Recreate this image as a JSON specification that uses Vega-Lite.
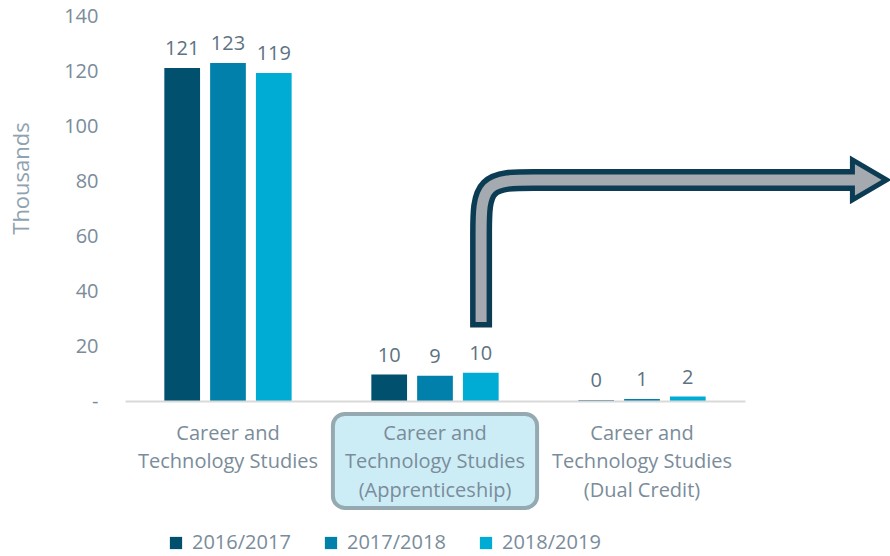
{
  "$schema": "https://vega.github.io/schema/vega-lite/v6.json",
  "width": 620,
  "height": 385,
  "autosize": "none",
  "padding": {"left": 125, "top": 16, "right": 145, "bottom": 155},
  "background": "white",
  "config": {
    "view": {"stroke": null},
    "font": "Open Sans",
    "axis": {"labelFont": "Open Sans", "titleFont": "Open Sans"},
    "legend": {"labelFont": "Open Sans"}
  },
  "datasets": {
    "enrol": [
      {"program": "Career and Technology Studies", "year": "2016/2017", "value": 121.1},
      {"program": "Career and Technology Studies", "year": "2017/2018", "value": 122.9},
      {"program": "Career and Technology Studies", "year": "2018/2019", "value": 119.3},
      {"program": "Career and Technology Studies (Apprenticeship)", "year": "2016/2017", "value": 9.6},
      {"program": "Career and Technology Studies (Apprenticeship)", "year": "2017/2018", "value": 9.2},
      {"program": "Career and Technology Studies (Apprenticeship)", "year": "2018/2019", "value": 10.3},
      {"program": "Career and Technology Studies (Dual Credit)", "year": "2016/2017", "value": 0.3},
      {"program": "Career and Technology Studies (Dual Credit)", "year": "2017/2018", "value": 0.7},
      {"program": "Career and Technology Studies (Dual Credit)", "year": "2018/2019", "value": 1.6}
    ],
    "arrow": [
      {"i": 0, "ax": 1.723, "ay": 30.7},
      {"i": 1, "ax": 1.723, "ay": 36.7},
      {"i": 2, "ax": 1.723, "ay": 62.2},
      {"i": 3, "ax": 1.723, "ay": 80.4},
      {"i": 4, "ax": 1.965, "ay": 80.4},
      {"i": 5, "ax": 2.298, "ay": 80.4},
      {"i": 6, "ax": 3.518, "ay": 80.4}
    ],
    "head": [
      {"ax": 3.602, "ay": 80.4}
    ],
    "box": [
      {"label": "highlight"}
    ]
  },
  "resolve": {"scale": {"x": "independent"}, "axis": {"y": "independent"}},
  "layer": [
    {
      "data": {"name": "enrol"},
      "encoding": {
        "x": {
          "field": "program",
          "type": "nominal",
          "sort": null,
          "scale": {"paddingInner": 0.385, "paddingOuter": 0.19},
          "axis": {
            "title": null,
            "labelAngle": 0,
            "labelFontSize": 20,
            "labelColor": "#7a8c9a",
            "labelLineHeight": 28.5,
            "labelPadding": 22,
            "labelLimit": 300,
            "labelExpr": "split(replace(replace(datum.label, 'and ', 'and|'), ' (', '|('), '|')",
            "ticks": false,
            "domainColor": "#d9d9d9",
            "domainWidth": 2,
            "zindex": 1
          }
        },
        "xOffset": {
          "field": "year",
          "type": "nominal",
          "scale": {"paddingInner": 0.22, "paddingOuter": 0}
        },
        "y": {
          "field": "value",
          "type": "quantitative",
          "scale": {"domain": [0, 140], "nice": false},
          "axis": {
            "title": "Thousands",
            "titleFontSize": 22,
            "titleFontWeight": "normal",
            "titleColor": "#8ea2af",
            "titleAngle": -90,
            "titleAlign": "center",
            "titleBaseline": "middle",
            "titleX": -104,
            "titleY": 162,
            "values": [0, 20, 40, 60, 80, 100, 120, 140],
            "labelExpr": "datum.value == 0 ? '-\u00a0\u00a0\u00a0' : datum.label",
            "labelFontSize": 20,
            "labelColor": "#7a8c9a",
            "labelPadding": 27,
            "ticks": false,
            "domain": false,
            "grid": false
          }
        }
      },
      "layer": [
        {
          "mark": {"type": "bar"},
          "encoding": {
            "color": {
              "field": "year",
              "type": "nominal",
              "scale": {
                "domain": ["2016/2017", "2017/2018", "2018/2019"],
                "range": ["#00506e", "#0080ab", "#00acd4"]
              },
              "legend": {
                "title": null,
                "orient": "none",
                "direction": "horizontal",
                "legendX": 41,
                "legendY": 517,
                "symbolType": "square",
                "symbolSize": 150,
                "symbolStrokeWidth": 0,
                "labelFontSize": 20,
                "labelColor": "#7a8c9a",
                "labelOffset": 6,
                "columnPadding": 30,
                "padding": 0
              }
            }
          }
        },
        {
          "mark": {"type": "text", "baseline": "bottom", "dy": -9, "fontSize": 20, "color": "#5d7282"},
          "encoding": {
            "text": {"field": "value", "type": "quantitative", "format": ".0f"}
          }
        }
      ]
    },
    {
      "encoding": {},
      "layer": [
        {
          "data": {"name": "box"},
          "mark": {"type": "rect", "fill": "#cdedf6", "stroke": "#95a9b0", "strokeWidth": 4, "cornerRadius": 12, "clip": false},
          "encoding": {
            "x": {"datum": 1.006, "type": "quantitative", "scale": {"domain": [0, 3], "nice": false, "zero": false}, "axis": null},
            "x2": {"datum": 1.994},
            "y": {"datum": -4.7, "type": "quantitative", "scale": {"domain": [0, 140], "nice": false}, "axis": null},
            "y2": {"datum": -38.9}
          }
        },
        {
          "data": {"name": "arrow"},
          "mark": {"type": "line", "interpolate": "basis", "color": "#0b3c54", "strokeWidth": 22, "strokeCap": "square", "clip": false},
          "encoding": {
            "x": {"field": "ax", "type": "quantitative", "scale": {"domain": [0, 3], "nice": false, "zero": false}, "axis": null},
            "y": {"field": "ay", "type": "quantitative", "scale": {"domain": [0, 140], "nice": false}, "axis": null},
            "order": {"field": "i", "type": "quantitative"}
          }
        },
        {
          "data": {"name": "head"},
          "mark": {"type": "point", "shape": "M -0.85 -1 L 0.85 0 L -0.85 1 Z", "size": 1600, "filled": true, "fill": "#a5aab0", "stroke": "#0b3c54", "strokeWidth": 5, "opacity": 1, "strokeJoin": "miter"},
          "encoding": {
            "x": {"field": "ax", "type": "quantitative", "axis": null},
            "y": {"field": "ay", "type": "quantitative", "axis": null}
          }
        },
        {
          "data": {"name": "arrow"},
          "mark": {"type": "line", "interpolate": "basis", "color": "#a5aab0", "strokeWidth": 11, "strokeCap": "square", "clip": false},
          "encoding": {
            "x": {"field": "ax", "type": "quantitative", "axis": null},
            "y": {"field": "ay", "type": "quantitative", "axis": null},
            "order": {"field": "i", "type": "quantitative"}
          }
        }
      ]
    }
  ]
}
